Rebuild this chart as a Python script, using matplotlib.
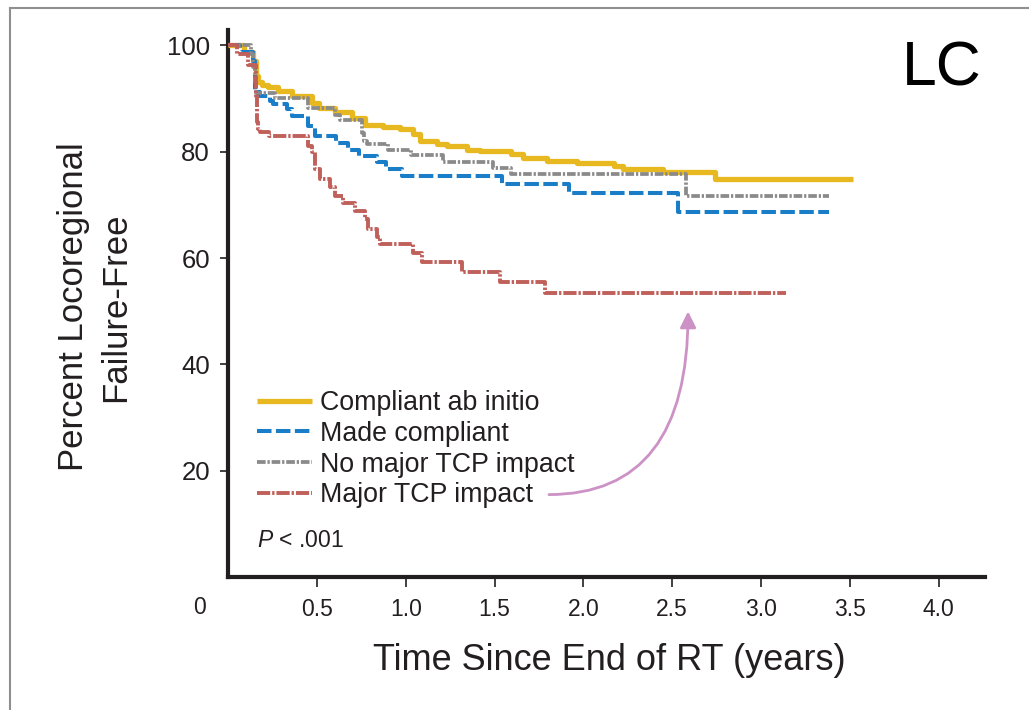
import matplotlib
matplotlib.use("Agg")
import matplotlib.pyplot as plt
from matplotlib.lines import Line2D

# ---------------- data ----------------
compliant_t = [0, 0.09, 0.14, 0.155, 0.16, 0.17, 0.19, 0.225, 0.28, 0.36, 0.47, 0.51, 0.60,
               0.70, 0.77, 0.87, 0.97, 1.04, 1.08, 1.176, 1.232, 1.345, 1.418, 1.593, 1.66,
               1.795, 1.964, 2.172, 2.223, 2.448, 2.74, 3.517]
compliant_s = [100, 98.8, 97.0, 95.5, 94.2, 93.2, 92.6, 92.1, 91.4, 90.4, 89.1, 88.3, 87.4,
               86.4, 85.1, 84.6, 84.2, 83.3, 82.0, 81.4, 81.1, 80.4, 80.1, 79.5, 78.9,
               78.2, 77.8, 77.3, 76.7, 76.1, 74.8, 74.8]

made_t = [0, 0.07, 0.14, 0.15, 0.18, 0.236, 0.253, 0.33, 0.36, 0.45, 0.49, 0.61, 0.675,
          0.74, 0.84, 0.89, 0.98, 1.54, 1.92, 2.53, 3.38]
made_s = [100, 98.8, 97.0, 91.2, 90.5, 89.5, 88.9, 88.0, 86.7, 84.8, 82.9, 81.7, 80.4,
          79.2, 78.0, 76.7, 75.4, 73.9, 72.3, 68.7, 68.7]

nomajor_t = [0, 0.13, 0.14, 0.15, 0.16, 0.265, 0.45, 0.60, 0.63, 0.755, 0.765, 0.78, 0.90,
             1.03, 1.21, 1.49, 1.59, 2.58, 3.38]
nomajor_s = [100, 98.3, 95.9, 93.2, 91.1, 90.2, 88.3, 87.0, 86.0, 83.5, 82.0, 81.5, 80.4,
             79.4, 78.1, 76.9, 75.8, 71.6, 71.6]

major_t = [0, 0.05, 0.11, 0.155, 0.158, 0.161, 0.164, 0.167, 0.18, 0.23, 0.45, 0.473, 0.49,
           0.518, 0.574, 0.602, 0.647, 0.715, 0.77, 0.788, 0.838, 0.855, 1.04, 1.09, 1.317,
           1.53, 1.784, 3.14]
major_s = [100, 98.3, 96.4, 93.6, 90.5, 87.4, 85.5, 84.2, 83.8, 82.9, 81.0, 79.9, 76.7,
           74.8, 73.3, 71.6, 70.4, 68.8, 67.3, 65.4, 63.9, 62.6, 61.0, 59.3, 57.3,
           55.5, 53.5, 53.5]

series_labels = ["Compliant ab initio", "Made compliant", "No major TCP impact", "Major TCP impact"]
x_ticks = [0.5, 1.0, 1.5, 2.0, 2.5, 3.0, 3.5, 4.0]
x_ticklabels = ["0.5", "1.0", "1.5", "2.0", "2.5", "3.0", "3.5", "4.0"]
y_ticks = [20, 40, 60, 80, 100]
y_ticklabels = ["20", "40", "60", "80", "100"]
p_text = r"$P$ < .001"
panel_label = "LC"
arrow_start = (1.806, 15.5)
arrow_end = (2.589, 49.95)

# ---------------- style ----------------
plt.rcParams['mathtext.fontset'] = 'custom'
plt.rcParams['mathtext.it'] = 'Liberation Sans:italic'
plt.rcParams['mathtext.rm'] = 'Liberation Sans'
REG = ['Liberation Sans', 'DejaVu Sans']
NARROW = ['Liberation Sans Narrow', 'Liberation Sans', 'DejaVu Sans']
INK = '#231f20'

fig = plt.figure(figsize=(10.29, 7.10), dpi=100)
W, H = 1029, 710
ax = fig.add_axes([228 / W, 1 - 577 / H, (985 - 228) / W, (577 - 30) / H])

c_gold, c_blue, c_gray, c_red = '#e8b820', '#1a7dc8', '#8a8a8a', '#c0605b'

l1, = ax.step(compliant_t, compliant_s, where='post', color=c_gold, lw=3.8,
              solid_capstyle='butt', zorder=3)
l2, = ax.step(made_t, made_s, where='post', color=c_blue, lw=2.9,
              dashes=(3.6, 1.1), zorder=4)
l3, = ax.step(nomajor_t, nomajor_s, where='post', color=c_gray, lw=2.7,
              dashes=(2.3, 0.5, 0.6, 0.5), zorder=5)
l4, = ax.step(major_t, major_s, where='post', color=c_red, lw=2.8,
              dashes=(3.4, 0.5, 0.6, 0.5), zorder=6)

ax.set_xlim(0, 4.26)
ax.set_ylim(0, 102.9)

for s in ['top', 'right']:
    ax.spines[s].set_visible(False)
for s in ['left', 'bottom']:
    ax.spines[s].set_linewidth(3.0)
    ax.spines[s].set_color(INK)

ax.set_xticks(x_ticks)
ax.set_xticklabels(x_ticklabels, family=NARROW, fontsize=16.5, color=INK)
ax.set_yticks(y_ticks)
ax.set_yticklabels(y_ticklabels, family=REG, fontsize=18.5, color=INK)
ax.tick_params(axis='x', direction='out', length=7, width=1.2, pad=8, colors=INK)
ax.tick_params(axis='y', direction='out', length=6, width=1.2, pad=7, colors=INK)

# origin label
ax.text(-0.163, -0.055, "0", transform=ax.get_xaxis_transform(), ha='center', va='center',
        family=NARROW, fontsize=16.5, color=INK)

ax.set_xlabel("Time Since End of RT (years)", family=NARROW, fontsize=26, color=INK)
ax.xaxis.label.set_va('center')
ax.xaxis.set_label_coords((609 - 228) / 757, (577 - 660) / 547)

ax.set_ylabel("Percent Locoregional\nFailure-Free", family=NARROW, fontsize=25, color=INK,
              linespacing=1.35)
ax.yaxis.label.set_va('center')
ax.yaxis.set_label_coords((95 - 228) / 757, (577 - 307) / 547)

leg = ax.legend([l1, l2, l3, l4], series_labels, loc='upper left',
                bbox_to_anchor=((257 - 228) / 757, (577 - 390) / 547),
                frameon=False, borderpad=0, borderaxespad=0, handlelength=2.05,
                handletextpad=0.3, labelspacing=0.18, prop={'family': REG, 'size': 19.3})
for t in leg.get_texts():
    t.set_color(INK)

ax.text(0.163, 6.9, p_text, family=REG, fontsize=16.5, color=INK, ha='left', va='center')

ax.annotate('', xy=arrow_end, xytext=arrow_start,
            arrowprops=dict(arrowstyle='-|>', connectionstyle='angle3,angleA=0,angleB=90',
                            color='#cc92c6', lw=2.0, mutation_scale=24, shrinkA=0, shrinkB=0))

fig.text(902 / W, 1 - 85 / H, panel_label, family=REG, fontsize=45, color='black',
         ha='left', va='baseline')

# figure frame (partial, cropped)
fig.add_artist(Line2D([10 / W, 10 / W], [0, 1 - 8 / H], transform=fig.transFigure,
                      color='#8f8f8f', lw=1.5))
fig.add_artist(Line2D([10 / W, 1], [1 - 8 / H, 1 - 8 / H], transform=fig.transFigure,
                      color='#8f8f8f', lw=1.5))

fig.savefig("out.png", dpi=100)
